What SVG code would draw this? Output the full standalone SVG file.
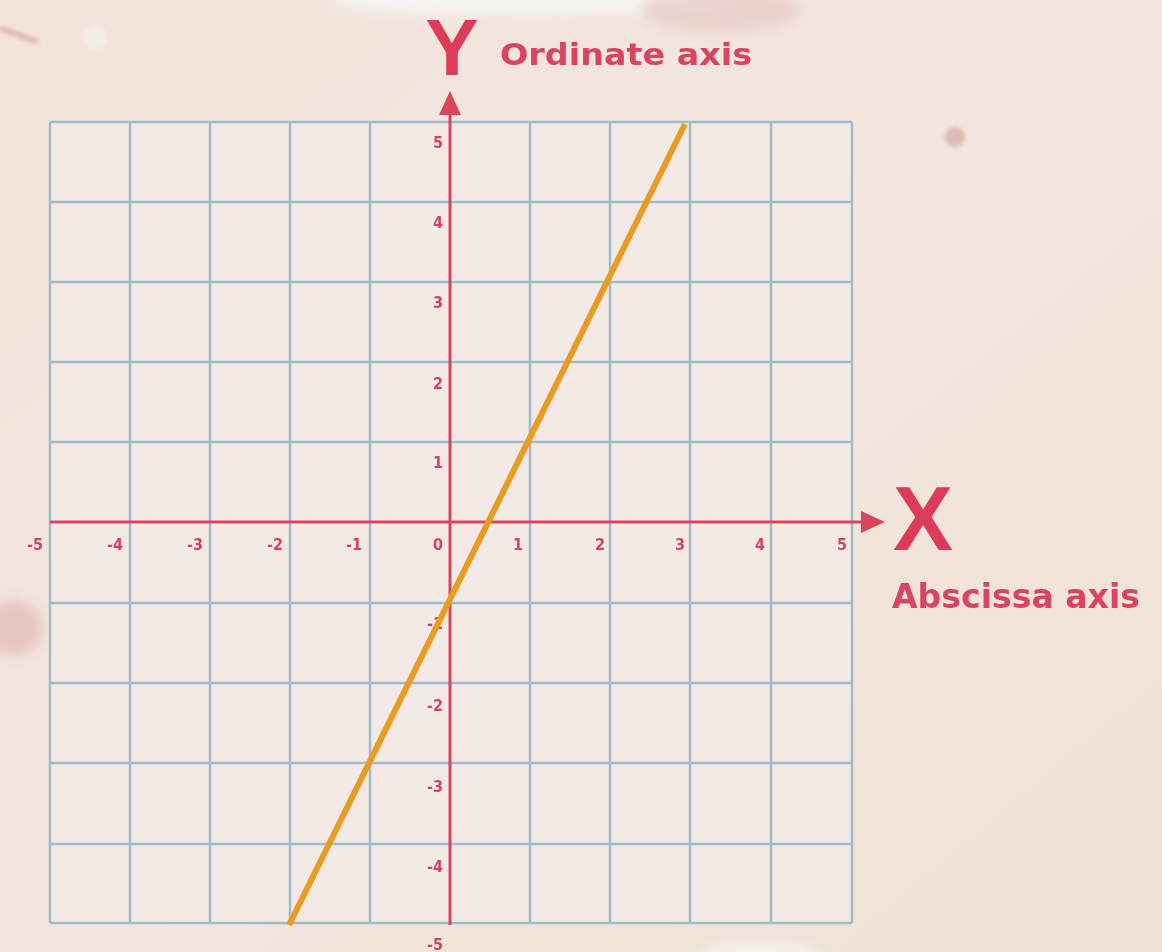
<svg xmlns="http://www.w3.org/2000/svg" width="1162" height="952" viewBox="0 0 1162 952">
<defs>
  <linearGradient id="bg" x1="0" y1="0" x2="1" y2="1">
    <stop offset="0" stop-color="#F3E4DA"/>
    <stop offset="0.5" stop-color="#F2E6DF"/>
    <stop offset="1" stop-color="#EEE1D3"/>
  </linearGradient>
  <filter id="blur" x="-50%" y="-50%" width="200%" height="200%">
    <feGaussianBlur stdDeviation="6"/>
  </filter>
  <filter id="blur2" x="-50%" y="-50%" width="200%" height="200%">
    <feGaussianBlur stdDeviation="2"/>
  </filter>
</defs>
<style>
  .grid { stroke: #9CBDC9; stroke-width: 2.5; fill: none; }
  .axis { stroke: #D9445E; stroke-width: 3; fill: none; }
  .head { fill: #D9445E; }
  .tick { font-family: "DejaVu Sans Condensed", "Liberation Sans Narrow", "Liberation Sans", sans-serif; font-stretch: condensed; font-weight: bold; font-size: 16px; fill: #D2445E; text-anchor: end; }
  .big { font-family: "Liberation Sans", Arial, sans-serif; font-weight: bold; fill: #DD3B5A; }
  .lbl { font-family: "DejaVu Sans", "Verdana", sans-serif; font-weight: bold; fill: #D94460; }
</style>

<!-- background -->
<rect x="0" y="0" width="1162" height="952" fill="url(#bg)"/>
<g id="decor" opacity="0.9">
  <ellipse cx="530" cy="2" rx="200" ry="14" fill="#F4F6F4" filter="url(#blur)"/>
  <ellipse cx="720" cy="10" rx="80" ry="22" fill="#E6C6C2" filter="url(#blur)" opacity="0.7"/>
  <path d="M0,28 L38,42" stroke="#D9ACA8" stroke-width="5" filter="url(#blur2)"/>
  <ellipse cx="95" cy="38" rx="12" ry="12" fill="#F6EEE8" filter="url(#blur2)"/>
  <circle cx="955" cy="137" r="10" fill="#DDB4AE" filter="url(#blur2)"/>
  <ellipse cx="15" cy="628" rx="28" ry="28" fill="#E6C4BE" filter="url(#blur)"/>
  <ellipse cx="760" cy="952" rx="60" ry="10" fill="#F6F2EE" filter="url(#blur)"/>
</g>

<!-- grid -->
<g id="grid">
  <rect x="50" y="122" width="802" height="801" fill="#F3EAE5"/>
  <path class="grid" d="M50,122 V923 M130,122 V923 M210,122 V923 M290,122 V923 M370,122 V923 M530,122 V923 M610,122 V923 M690,122 V923 M771,122 V923 M852,122 V923
    M50,122 H852 M50,202 H852 M50,282 H852 M50,362 H852 M50,442 H852 M50,603 H852 M50,683 H852 M50,763 H852 M50,844 H852 M50,923 H852"/>
</g>

<!-- tick labels -->
<g id="x-labels">
  <text class="tick" x="43" y="550">-5</text>
  <text class="tick" x="123" y="550">-4</text>
  <text class="tick" x="203" y="550">-3</text>
  <text class="tick" x="283" y="550">-2</text>
  <text class="tick" x="362" y="550">-1</text>
  <text class="tick" x="443" y="550">0</text>
  <text class="tick" x="523" y="550">1</text>
  <text class="tick" x="605" y="550">2</text>
  <text class="tick" x="685" y="550">3</text>
  <text class="tick" x="765" y="550">4</text>
  <text class="tick" x="847" y="550">5</text>
</g>
<g id="y-labels">
  <text class="tick" x="443" y="148">5</text>
  <text class="tick" x="443" y="228">4</text>
  <text class="tick" x="443" y="308">3</text>
  <text class="tick" x="443" y="389">2</text>
  <text class="tick" x="443" y="468">1</text>
  <text class="tick" x="443" y="629">-1</text>
  <text class="tick" x="443" y="711">-2</text>
  <text class="tick" x="443" y="792">-3</text>
  <text class="tick" x="443" y="872">-4</text>
  <text class="tick" x="443" y="950">-5</text>
</g>

<!-- connectors: axes and function line -->
<g id="connectors">
  <line id="x-axis" class="axis" x1="50" y1="522" x2="864" y2="522"/>
  <path class="head" d="M885,522 L861,511 L861,533 Z"/>
  <line id="y-axis" class="axis" x1="450" y1="925" x2="450" y2="110"/>
  <path class="head" d="M450,91 L439,115 L461,115 Z"/>
  <line id="graph-line" x1="289" y1="925" x2="685" y2="124" stroke="#E99B22" stroke-width="6"/>
</g>

<!-- axis titles -->
<g id="y-title">
  <text class="big" x="452" y="75" font-size="80" text-anchor="middle">Y</text>
  <text class="lbl" x="500" y="65" font-size="31" textLength="252" lengthAdjust="spacingAndGlyphs">Ordinate axis</text>
</g>
<g id="x-title">
  <text class="big" x="923" y="550" font-size="90" text-anchor="middle">X</text>
  <text class="lbl" x="892" y="608" font-size="34" textLength="248" lengthAdjust="spacingAndGlyphs">Abscissa axis</text>
</g>
</svg>
